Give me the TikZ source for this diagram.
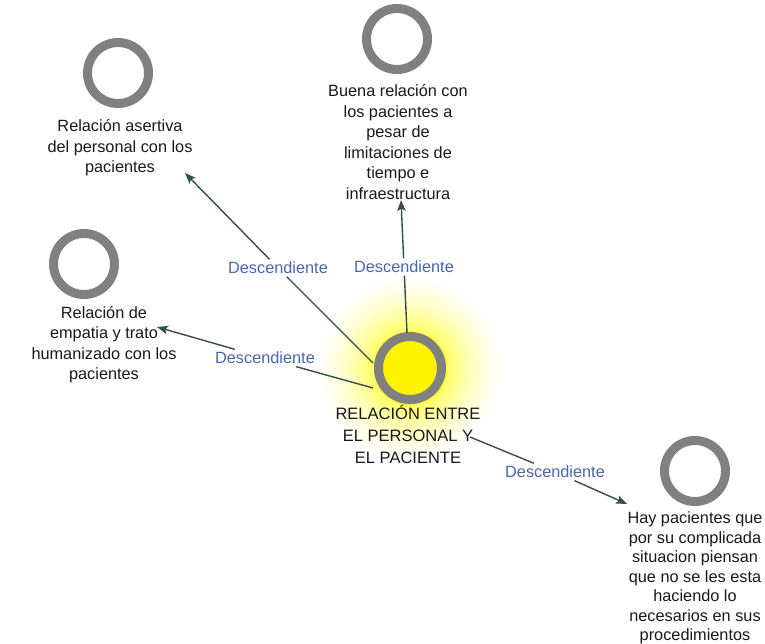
\documentclass[tikz,border=0pt]{standalone}
\usepackage{fontspec}
\setmainfont{Liberation Sans}
\usetikzlibrary{arrows.meta}
\definecolor{ringgray}{RGB}{128,128,128}
\definecolor{linkcol}{RGB}{52,78,76}
\definecolor{labelblue}{RGB}{72,102,176}
\definecolor{coreyellow}{RGB}{255,243,0}
\definecolor{txtcol}{RGB}{25,25,25}
% the shading is fitted so that 25bp falls on the edge of the shaded circle
\pgfdeclareradialshading{halo}{\pgfpoint{0bp}{0bp}}{%
  color(0bp)=(coreyellow);
  color(9bp)=(coreyellow);
  color(10.5bp)=(yellow!58);
  color(14bp)=(yellow!38);
  color(18bp)=(yellow!20);
  color(22bp)=(yellow!7);
  color(25bp)=(white);
  color(50bp)=(white)}
\newcommand\tstrut{\rule{0pt}{16pt}}
\begin{document}
\begin{tikzpicture}[x=1pt,y=-1pt,
  ring/.style={circle,draw=ringgray,line width=9pt,minimum size=61pt,inner sep=0pt},
  ntext/.style={align=center,inner sep=0pt,anchor=north,text=txtcol,
    font=\fontsize{16.3}{20.5}\selectfont},
  ctext/.style={ntext,font=\fontsize{16.5}{22}\selectfont},
  linklabel/.style={inner sep=2.5pt,text=labelblue,font=\fontsize{16.3}{20}\selectfont},
  link/.style={draw=linkcol,line width=1.4pt},
  arrowlink/.style={link,-{Stealth[length=11pt,width=8.5pt,inset=2.5pt]}}]
  \useasboundingbox (0,0) rectangle (765,644);

  % soft glow behind the central code
  \shade[shading=halo] (410,368) circle[radius=92];

  % central code
  \node[ring,fill=coreyellow,minimum size=63pt] (c) at (410,368) {};
  \node[ctext] (ct) at (408,403) {\tstrut RELACIÓN ENTRE\\EL PERSONAL Y\\EL PACIENTE};

  % related codes
  \node[ring] (tl) at (118,73) {};
  \node[ntext] (tlt) at (120,115.5) {\tstrut Relación asertiva\\del personal con los\\pacientes};

  \node[ring] (tp) at (397,39) {};
  \node[ntext] (tpt) at (398,80.5) {\tstrut Buena relación con\\los pacientes a\\pesar de\\limitaciones de\\tiempo e\\infraestructura};

  \node[ring] (ml) at (84,264) {};
  \node[ntext] (mlt) at (104,302) {\tstrut Relación de\\empatia y trato\\humanizado con los\\pacientes};

  \node[ring] (br) at (695,471) {};
  \node[ntext,font=\fontsize{16.3}{19.5}\selectfont] (brt) at (695,507.5) {\tstrut Hay pacientes que\\por su complicada\\situacion piensan\\que no se les esta\\haciendo lo\\necesarios en sus\\procedimientos};

  % link end points
  \coordinate (s1) at (373,363);
  \coordinate (e1) at (185,173);
  \coordinate (s2) at (407,333);
  \coordinate (e2) at (401,200);
  \coordinate (s3) at (373,388);
  \coordinate (e3) at (157,327);
  \coordinate (s4) at (470,437);
  \coordinate (e4) at (627,504);

  % link labels
  \node[linklabel] (l1) at (278,268) {Descendiente};
  \node[linklabel] (l2) at (404,267) {Descendiente};
  \node[linklabel] (l3) at (265,358) {Descendiente};
  \node[linklabel] (l4) at (555,472) {Descendiente};

  % links, each broken around its label
  \path[link] (s1) -- (l1);
  \path[arrowlink] (l1) -- (e1);
  \path[link] (s2) -- (l2);
  \path[arrowlink] (l2) -- (e2);
  \path[link] (s3) -- (l3);
  \path[arrowlink] (l3) -- (e3);
  \path[link] (s4) -- (l4);
  \path[arrowlink] (l4) -- (e4);
\end{tikzpicture}
\end{document}
